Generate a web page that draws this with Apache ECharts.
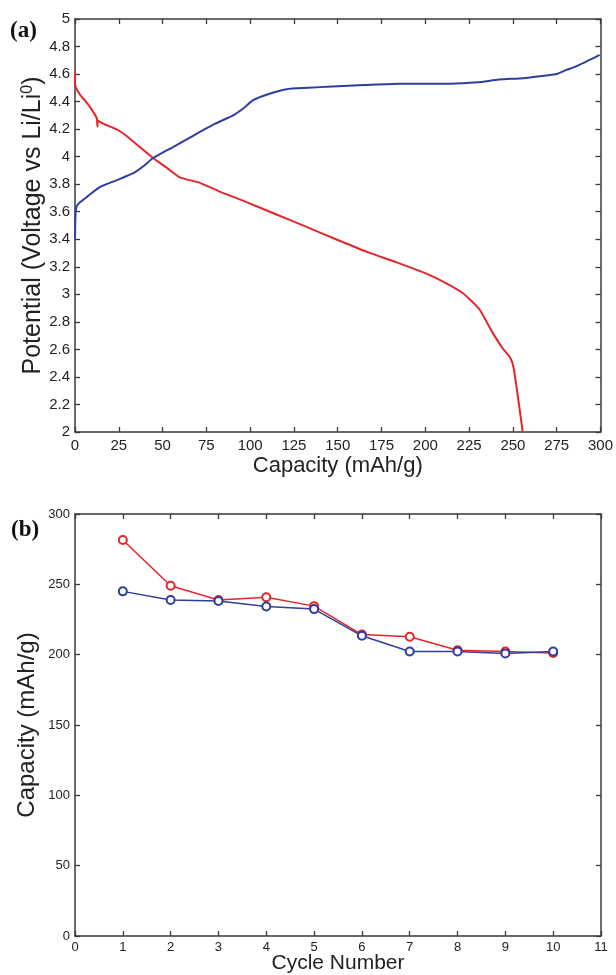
<!DOCTYPE html>
<html>
<head>
<meta charset="utf-8">
<script src="https://cdn.jsdelivr.net/npm/echarts@6/dist/echarts.min.js"></script>
<style>
html,body{margin:0;padding:0;background:#fff;}
#chart{width:616px;height:975px;}
</style>
</head>
<body>
<div id="chart"></div>
<script>
// Panel (a): discharge (red) and charge (blue) curves
const dischargeCap = [0, 0, 0.6, 2.9, 5.5, 8.6, 12.4, 12.8, 13.2, 16, 21.7, 25, 29.5, 37, 44.6, 52.3, 59.9, 71.3, 82, 97.9, 115, 132.2, 149, 166.4, 184, 200.6, 212, 221.3, 226.5, 231, 235, 238.5, 244, 248.5, 250.5, 255.6];
const dischargeV   = [4.61, 4.54, 4.50, 4.45, 4.41, 4.36, 4.28, 4.22, 4.26, 4.24, 4.21, 4.19, 4.15, 4.07, 3.99, 3.92, 3.85, 3.81, 3.75, 3.67, 3.58, 3.49, 3.40, 3.31, 3.23, 3.15, 3.08, 3.01, 2.95, 2.89, 2.80, 2.72, 2.61, 2.54, 2.46, 2.00];
const chargeCap = [0, 0.3, 1, 3, 7, 14.3, 24, 33.3, 39, 44.6, 50, 56, 63, 71.3, 80, 90.3, 96, 101.7, 109.3, 120.8, 133, 147, 165, 185, 214, 230, 242, 256, 269, 275, 280.5, 285, 290, 295, 299.5];
const chargeV   = [3.40, 3.58, 3.64, 3.67, 3.71, 3.78, 3.83, 3.88, 3.93, 3.99, 4.03, 4.07, 4.12, 4.18, 4.24, 4.30, 4.35, 4.41, 4.45, 4.49, 4.50, 4.51, 4.52, 4.53, 4.53, 4.54, 4.56, 4.57, 4.59, 4.60, 4.63, 4.65, 4.68, 4.71, 4.74];

// Panel (b): capacity vs cycle number
const cycles = [1, 2, 3, 4, 5, 6, 7, 8, 9, 10];
const dischargeCapacity = [281.5, 249, 238.8, 240.8, 234.5, 214.3, 212.8, 203.2, 202.2, 201.2];
const chargeCapacity    = [245, 238.8, 238.2, 234.3, 232.4, 213.4, 202.2, 202.2, 200.9, 202.2];

// Tick settings
const xTicksA = {min: 0, max: 300, interval: 25};
const yTicksA = {min: 2, max: 5, interval: 0.2};
const xTicksB = {min: 0, max: 11, interval: 1};
const yTicksB = {min: 0, max: 300, interval: 50};

const RED = '#e4262b';
const BLUE = '#2e3e9f';
const AX = '#3a3a3a';
const FONT = '"Liberation Sans", Arial, Helvetica, sans-serif';

function zip(a, b) { return a.map((v, i) => [v, b[i]]); }

function mainAxis(extra) {
  return Object.assign({
    type: 'value',
    nameMoveOverlap: false,
    axisLine: {show: true, onZero: false, lineStyle: {color: AX, width: 1.5}},
    axisTick: {show: true, inside: true, length: 5, lineStyle: {color: AX, width: 1.3}},
    splitLine: {show: false},
    axisLabel: {color: '#222', fontFamily: FONT, fontSize: 15, margin: 5}
  }, extra);
}
function mirrorAxis(extra) {
  return Object.assign({
    type: 'value',
    axisLine: {show: true, onZero: false, lineStyle: {color: AX, width: 1.5}},
    axisTick: {show: true, inside: true, length: 5, lineStyle: {color: AX, width: 1.3}},
    splitLine: {show: false},
    axisLabel: {show: false}
  }, extra);
}

const chart = echarts.init(document.getElementById('chart'), null, {renderer: 'canvas'});
chart.setOption({
  backgroundColor: '#fff',
  animation: false,
  grid: [
    {left: 75, right: 15, top: 19, height: 413},
    {left: 75, right: 15, top: 514, height: 422}
  ],
  xAxis: [
    mainAxis(Object.assign({gridIndex: 0, position: 'bottom',
      name: 'Capacity (mAh/g)', nameLocation: 'middle', nameGap: 23,
      nameTextStyle: {fontFamily: FONT, fontSize: 22, color: '#222'},
      axisLabel: {color: '#222', fontFamily: FONT, fontSize: 15, margin: 6}}, xTicksA)),
    mirrorAxis(Object.assign({gridIndex: 0, position: 'top'}, xTicksA)),
    mainAxis(Object.assign({gridIndex: 1, position: 'bottom',
      name: 'Cycle Number', nameLocation: 'middle', nameGap: 17,
      nameTextStyle: {fontFamily: FONT, fontSize: 21, color: '#222'},
      axisLabel: {color: '#222', fontFamily: FONT, fontSize: 13, margin: 5}}, xTicksB)),
    mirrorAxis(Object.assign({gridIndex: 1, position: 'top'}, xTicksB))
  ],
  yAxis: [
    mainAxis(Object.assign({gridIndex: 0, position: 'left',
      name: 'Potential (Voltage vs Li/Li{sup|0})', nameLocation: 'middle', nameGap: 29,
      nameTextStyle: {fontFamily: FONT, fontSize: 25, lineHeight: 26, color: '#222',
        rich: {sup: {fontFamily: FONT, fontSize: 16, lineHeight: 16, color: '#222', verticalAlign: 'top', padding: [0, 0, 3, 0]}}}
      }, yTicksA)),
    mirrorAxis(Object.assign({gridIndex: 0, position: 'right'}, yTicksA)),
    mainAxis(Object.assign({gridIndex: 1, position: 'left',
      name: 'Capacity (mAh/g)', nameLocation: 'middle', nameGap: 36,
      nameTextStyle: {fontFamily: FONT, fontSize: 24, color: '#222'},
      axisLabel: {color: '#222', fontFamily: FONT, fontSize: 13, margin: 5}}, yTicksB)),
    mirrorAxis(Object.assign({gridIndex: 1, position: 'right'}, yTicksB))
  ],
  series: [
    {type: 'line', xAxisIndex: 0, yAxisIndex: 0, data: zip(dischargeCap, dischargeV),
      showSymbol: false, smooth: 0.2, lineStyle: {color: RED, width: 2}, clip: true},
    {type: 'line', xAxisIndex: 0, yAxisIndex: 0, data: zip(chargeCap, chargeV),
      showSymbol: false, smooth: 0.2, lineStyle: {color: BLUE, width: 2}, clip: true},
    {type: 'line', xAxisIndex: 2, yAxisIndex: 2, data: zip(cycles, dischargeCapacity),
      symbol: 'emptyCircle', symbolSize: 8, lineStyle: {color: RED, width: 1.5},
      itemStyle: {color: RED, borderColor: RED, borderWidth: 1.5}},
    {type: 'line', xAxisIndex: 2, yAxisIndex: 2, data: zip(cycles, chargeCapacity),
      symbol: 'emptyCircle', symbolSize: 8, lineStyle: {color: BLUE, width: 1.5},
      itemStyle: {color: BLUE, borderColor: BLUE, borderWidth: 1.5}}
  ],
  graphic: [
    {type: 'text', left: 10, top: 20, style: {text: '(a)', font: 'bold 23px "Liberation Serif", "Times New Roman", serif', fill: '#111'}},
    {type: 'text', left: 11, top: 519, style: {text: '(b)', font: 'bold 23px "Liberation Serif", "Times New Roman", serif', fill: '#111'}}
  ]
});
</script>
</body>
</html>
